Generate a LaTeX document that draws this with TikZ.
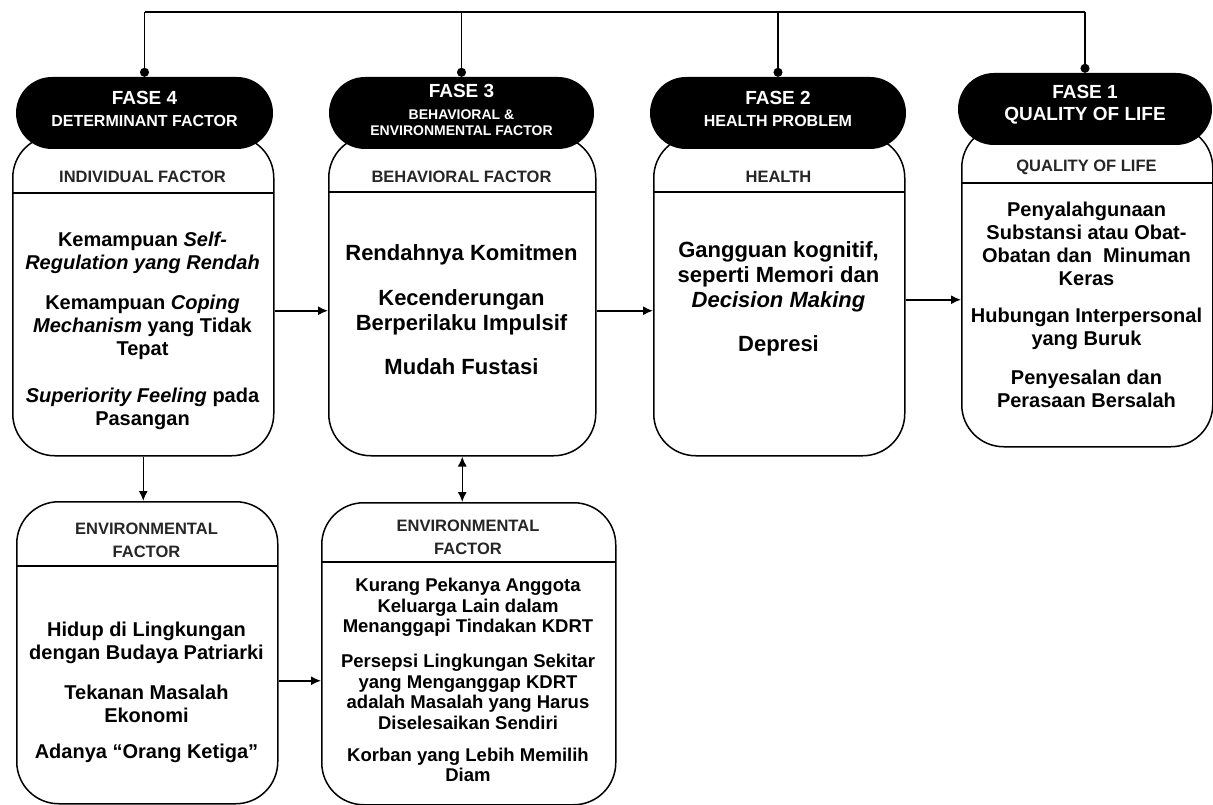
\documentclass[tikz,border=0pt]{standalone}
\usepackage{fontspec}
\setmainfont{Liberation Sans}
\usetikzlibrary{arrows.meta,positioning}

\begin{document}
\begin{tikzpicture}[x=1pt,y=-1pt,
  fase/.style={fill=black,rounded corners=36pt,minimum height=72pt,inner sep=0pt},
  fasetext/.style={text=white,align=center,inner sep=0pt,font=\fontsize{19}{22}\selectfont\bfseries},
  factor/.style={draw,fill=white,line width=1.5pt,rounded corners=42pt,inner sep=0pt,anchor=north west},
  head/.style={text=black!85,align=center,inner sep=0pt,font=\fontsize{16.5}{23}\selectfont\bfseries},
  isi/.style={align=center,inner sep=0pt,anchor=north,font=\fontsize{20}{23}\selectfont\bfseries},
  garis/.style={line width=1.5pt},
  panah/.style={line width=1.5pt,-{Latex[length=10pt,width=9pt]}},
  titik/.style={line width=1.5pt,-{Circle[length=9pt]}}]

\useasboundingbox (0,0) rectangle (1213,805);

\node[factor,minimum width=261pt,minimum height=320pt] (ind) at (12,135) {};
\node[factor,minimum width=267pt,minimum height=320pt] (beh) at (328,135) {};
\node[factor,minimum width=251pt,minimum height=320pt] (hea) at (653,135) {};
\node[factor,minimum width=251pt,minimum height=321pt] (qol) at (961,125) {};
\node[factor,minimum width=261pt,minimum height=302pt] (env) at (16,501) {};
\node[factor,minimum width=294pt,minimum height=302pt] (lin) at (321,502) {};

\draw[garis] (12,193) -- (273,193);
\draw[garis] (328,192) -- (595,192);
\draw[garis] (653,192) -- (904,192);
\draw[garis] (961,183) -- (1212,183);
\draw[garis] (16,566) -- (277,566);
\draw[line width=2pt] (321,562) -- (615,562);

\node[fase,minimum width=257pt] (p4) at (144.5,113) {};
\node[fase,minimum width=265pt] (p3) at (461.5,113) {};
\node[fase,minimum width=256pt] (p2) at (778,113) {};
\node[fase,minimum width=254pt] (p1) at (1085,109) {};

\node[fasetext] (p4t) at (144.5,109) {FASE 4\\{\fontsize{16}{22}\selectfont DETERMINANT FACTOR}};
\node[fasetext] (p3t) at (461.5,110) {FASE 3\\{\fontsize{14}{16}\selectfont BEHAVIORAL \&}\\[-6pt]{\fontsize{14}{16}\selectfont ENVIRONMENTAL FACTOR}};
\node[fasetext] (p2t) at (778,109) {FASE 2\\{\fontsize{16}{22}\selectfont HEALTH PROBLEM}};
\node[fasetext] (p1t) at (1085,105) {FASE 1\\QUALITY OF LIFE};

\coordinate (atas) at (0,12);
\draw[garis] (p4.north |- atas) -- (p1.north |- atas);
\draw[titik] (p4.north |- atas) -- (p4.north);
\draw[titik] (p3.north |- atas) -- (p3.north);
\draw[titik] (p2.north |- atas) -- (p2.north);
\draw[titik] (p1.north |- atas) -- (p1.north);

\node[head] (indh) at (142.5,177) {INDIVIDUAL FACTOR};
\node[head] (behh) at (461.5,177) {BEHAVIORAL FACTOR};
\node[head] (heah) at (778.5,177) {HEALTH};
\node[head] (qolh) at (1086.5,167) {QUALITY OF LIFE};
\node[head] (envh) at (146.5,540) {ENVIRONMENTAL\\FACTOR};
\node[head] (linh) at (468,537) {ENVIRONMENTAL\\FACTOR};

\node[isi] (indi) at (142.5,232) {Kemampuan \textit{Self-}\\\textit{Regulation yang Rendah}\\[17pt]Kemampuan \textit{Coping}\\\textit{Mechanism} yang Tidak\\Tepat\\[24pt]\textit{Superiority Feeling} pada\\Pasangan};
\node[isi,font=\fontsize{22}{25}\selectfont\bfseries] (behi) at (461.5,244) {Rendahnya Komitmen\\[20pt]Kecenderungan\\Berperilaku Impulsif\\[19pt]Mudah Fustasi};
\node[isi,font=\fontsize{22}{25}\selectfont\bfseries] (heai) at (778.5,241) {Gangguan kognitif,\\seperti Memori dan\\\textit{Decision Making}\\[19pt]Depresi};
\node[isi] (qoli) at (1086.5,202) {Penyalahgunaan\\Substansi atau Obat-\\Obatan dan~ Minuman\\Keras\\[14pt]Hubungan Interpersonal\\yang Buruk\\[16pt]Penyesalan dan\\Perasaan Bersalah};
\node[isi] (envi) at (146.5,622) {Hidup di Lingkungan\\dengan Budaya Patriarki\\[17pt]Tekanan Masalah\\Ekonomi\\[13pt]Adanya “Orang Ketiga”};
\node[isi,font=\fontsize{18.5}{20.5}\selectfont\bfseries] (lini) at (468,578) {Kurang Pekanya Anggota\\Keluarga Lain dalam\\Menanggapi Tindakan KDRT\\[14.5pt]Persepsi Lingkungan Sekitar\\yang Menganggap KDRT\\adalah Masalah yang Harus\\Diselesaikan Sendiri\\[11.5pt]Korban yang Lebih Memilih\\Diam};

\draw[panah] ([yshift=-15pt]ind.east) -- ([yshift=-15pt]beh.west);
\draw[panah] ([yshift=-15pt]beh.east) -- ([yshift=-15pt]hea.west);
\coordinate (h1) at ([yshift=-4pt]hea.east);
\draw[panah] (h1) -- (h1 -| qol.west);
\draw[panah] (ind.south) -- (ind.south |- env.north);
\draw[line width=1.5pt,{Latex[length=10pt,width=9pt]}-{Latex[length=10pt,width=9pt]}] (beh.south) -- (beh.south |- lin.north);
\coordinate (e1) at ([yshift=-28pt]env.east);
\draw[panah] (e1) -- (e1 -| lin.west);
\end{tikzpicture}
\end{document}
